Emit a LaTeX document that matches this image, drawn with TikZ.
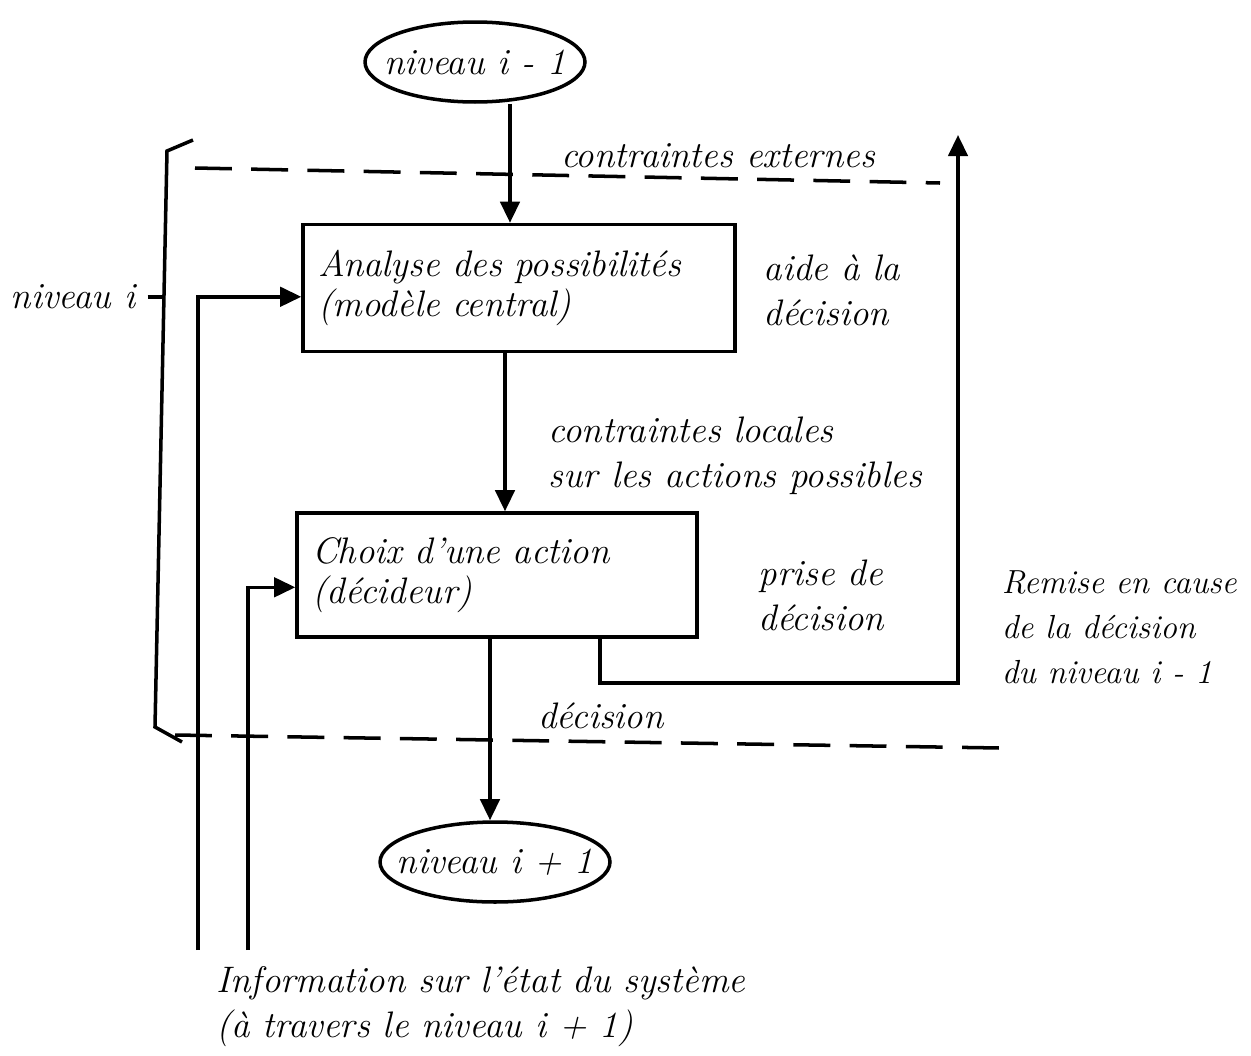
\documentclass[tikz,border=0pt]{standalone}
\usetikzlibrary{shapes.geometric,arrows.meta}
\begin{document}
\begin{tikzpicture}[x=0.02cm,y=-0.02cm,line width=2pt,
    every node/.style={font=\fontsize{21}{25.6}\selectfont\itshape},
    level/.style={draw,ellipse,minimum width=4.4cm,minimum height=1.6cm,inner sep=0pt},
    box/.style={draw,rectangle,align=left,inner xsep=0.3cm,font=\fontsize{21}{23}\selectfont\itshape},
    note/.style={anchor=west,align=left,inner sep=0pt},
    arr/.style={-{Triangle[length=12pt,width=11pt]}},
    limit/.style={dashed,dash pattern=on 21pt off 11pt}]
    \useasboundingbox (0,0) rectangle (1251,1055);

    \coordinate (c1) at (510,0);
    \coordinate (c2) at (505,0);
    \coordinate (c3) at (490,0);
    \coordinate (c4) at (600,0);
    \coordinate (turn) at (958,683);
    \coordinate (remise) at (958,135);
    \coordinate (info1) at (198,950);
    \coordinate (info2) at (248,950);

    \node[level] (prev) at (475,62) {\makebox[0pt]{niveau i - 1}};
    \node[box,minimum width=8.64cm,minimum height=2.54cm,text width=8.04cm] (analyse) at (519,288)
        {Analyse des possibilités\\(modèle central)};
    \node[box,minimum width=8cm,minimum height=2.48cm,text width=7.4cm] (choix) at (497,575)
        {Choix d'une action\\(décideur)};
    \node[level,minimum width=4.6cm] (next) at (495,862) {\makebox[0pt]{niveau i + 1}};

    \node[note] (aide) at (762,290) {aide à la\\décision};
    \node[note] (locales) at (547,456) {contraintes locales\\sur les actions possibles};
    \node[note] (prise) at (757,595) {prise de\\décision};
    \node[note,font=\fontsize{19}{25.6}\selectfont\itshape] (cause) at (1000,627)
        {Remise en cause\\de la décision\\du niveau i - 1};
    \node (externes) at (718,156) {contraintes externes};
    \node (decision) at (601,716) {décision};
    \node[anchor=east,inner sep=0pt] (niv) at (137,297) {niveau i};
    \node[note] (info) at (215,1007) {Information sur l'état du système\\(à travers le niveau i + 1)};

    \draw[limit] (195,168) -- (940,183);
    \draw[limit] (175,735) -- (1000,748);
    \draw (193,140) -- (167,151) -- (155,727) -- (182,742);
    \draw ([xshift=6pt]niv.east) -- (162,297);

    \draw[arr] (prev.south -| c1) -- (analyse.north -| c1);
    \draw[arr] (analyse.south -| c2) -- (choix.north -| c2);
    \draw[arr] (choix.south -| c3) -- (next.north -| c3);
    \draw[arr] (choix.south -| c4) |- (turn) -- (remise);
    \draw[arr] (info1) |- ([yshift=-5pt]analyse.west);
    \draw[arr] (info2) |- ([yshift=-7pt]choix.west);
\end{tikzpicture}
\end{document}
